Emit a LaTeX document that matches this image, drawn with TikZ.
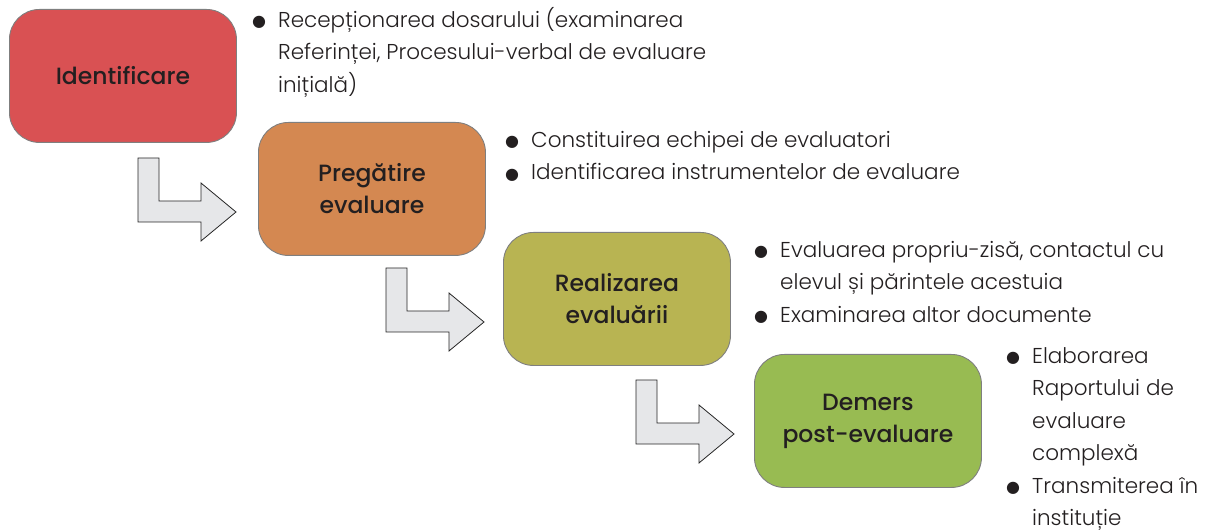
\documentclass[tikz,border=0pt]{standalone}
\usepackage{fontspec}
\setmainfont{Poppins}[UprightFont=* Light]
\newfontfamily\titlefont{Poppins}[UprightFont=* Medium]
\newfontfamily\dejavu{DejaVu Sans}
\definecolor{cA}{HTML}{D95153}
\definecolor{cB}{HTML}{D48851}
\definecolor{cC}{HTML}{B8B452}
\definecolor{cD}{HTML}{98BB52}
\definecolor{arrowfill}{HTML}{E6E7E9}
\definecolor{boxline}{HTML}{7F7F7F}
\definecolor{txt}{HTML}{231F20}
\newcommand{\bul}{\makebox[26bp][l]{\raisebox{0.5bp}{\dejavu\fontsize{16bp}{16bp}\selectfont ●}}}
\newcommand{\ind}{\hspace*{26bp}}
\tikzset{
  stage/.style={draw=boxline, line width=0.9bp, rounded corners=30bp, minimum width=227bp, minimum height=133bp, anchor=north west, align=center, text=txt, font=\titlefont\fontsize{23.5bp}{32bp}\selectfont, inner sep=0pt},
  notes/.style={anchor=north west, align=left, inner sep=0pt, text=txt, font=\fontsize{21.5bp}{32.5bp}\selectfont},
  bentarrow/.style={draw=black!85, fill=arrowfill, line width=0.8bp, line join=miter}
}
\begin{document}
\begin{tikzpicture}[x=1bp, y=-1bp]
\useasboundingbox (0,0) rectangle (1208,531);
\node[stage, fill=cA] (s1) at (9,9) {Identificare};
\node[stage, fill=cB] (s2) at (258,122) {Pregătire\\evaluare};
\node[stage, fill=cC] (s3) at (503,232) {Realizarea\\evaluării};
\node[stage, fill=cD] (s4) at (754,354) {Demers\\post-evaluare};

\node[notes] (n1) at (252,7) {\bul Recepționarea dosarului (examinarea\\ \ind Referinței, Procesului-verbal de evaluare\\ \ind inițială)};
\node[notes] (n2) at (505,131) {\bul Constituirea echipei de evaluatori\\ \bul Identificarea instrumentelor de evaluare};
\node[notes] (n3) at (754,241) {\bul Evaluarea propriu-zisă, contactul cu\\ \ind elevul și părintele acestuia\\ \bul Examinarea altor documente};
\node[notes] (n4) at (1006,347) {\bul Elaborarea\\ \ind Raportului de\\ \ind evaluare\\ \ind complexă\\ \bul Transmiterea în\\ \ind instituție};

\foreach \dx/\dy/\nm in {0/0/a1, 248/110/a2, 498/222/a3}{
  \draw[bentarrow, shift={(\dx,\dy)}] (138,158) -- (159,158) -- (159,201) -- (201,201) -- (201,183) -- (236,212) -- (201,241) -- (201,222) -- (138,222) -- cycle;
}
\end{tikzpicture}
\end{document}
